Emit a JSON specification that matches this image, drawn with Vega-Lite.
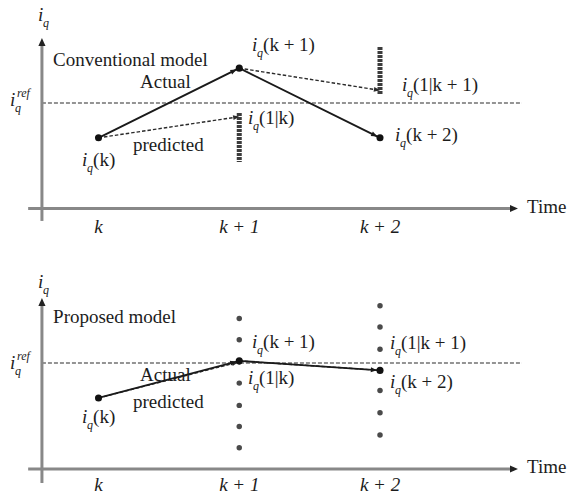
{
  "$schema": "https://vega.github.io/schema/vega-lite/v6.json",
  "padding": 0,
  "spacing": 0,
  "background": "white",
  "config": {
    "view": {"stroke": null},
    "text": {"font": "Liberation Serif", "fontSize": 19, "color": "#1c1c1c", "align": "left", "baseline": "middle"}
  },
  "datasets": {
    "top_actual": [{"x": 0, "y": 0.67}, {"x": 1, "y": 1.33}, {"x": 2, "y": 0.67}],
    "top_pred": [
      {"x": 0, "y": 0.67, "x2": 1, "y2": 0.87},
      {"x": 1, "y": 1.33, "x2": 2, "y2": 1.12}
    ],
    "top_bars": [
      {"x": 1, "y": 0.905, "y2": 0.441},
      {"x": 2, "y": 1.531, "y2": 1.076}
    ],
    "top_iq": [
      {"x": -0.43, "y": 1.834, "body": ""},
      {"x": -0.629, "y": 1.028, "body": ""},
      {"x": -0.117, "y": 0.46, "body": "(k)"},
      {"x": 1.091, "y": 1.55, "body": "(k + 1)"},
      {"x": 1.062, "y": 0.857, "body": "(1|k)"},
      {"x": 2.156, "y": 1.171, "body": "(1|k + 1)"},
      {"x": 2.107, "y": 0.697, "body": "(k + 2)"}
    ],
    "top_text": [
      {"x": -0.323, "y": 1.408, "text": "Conventional model"},
      {"x": 0.295, "y": 1.199, "text": "Actual"},
      {"x": 0.245, "y": 0.602, "text": "predicted"},
      {"x": 3.045, "y": 0.014, "text": "Time"}
    ],
    "top_ticks": [
      {"x": 0, "y": -0.175, "text": "k"},
      {"x": 1, "y": -0.175, "text": "k + 1"},
      {"x": 2, "y": -0.175, "text": "k + 2"}
    ],
    "bot_actual": [{"x": 0, "y": 0.67}, {"x": 1, "y": 1.02}, {"x": 2, "y": 0.93}],
    "bot_pred": [
      {"x": 0, "y": 0.67, "x2": 1, "y2": 1.01},
      {"x": 1, "y": 1.02, "x2": 2, "y2": 0.93}
    ],
    "bot_dots": [
      {"x": 1, "y": 1.42}, {"x": 1, "y": 1.22}, {"x": 1, "y": 1.01}, {"x": 1, "y": 0.81},
      {"x": 1, "y": 0.6}, {"x": 1, "y": 0.4}, {"x": 1, "y": 0.2},
      {"x": 2, "y": 1.54}, {"x": 2, "y": 1.34}, {"x": 2, "y": 1.13}, {"x": 2, "y": 0.93},
      {"x": 2, "y": 0.74}, {"x": 2, "y": 0.53}, {"x": 2, "y": 0.32}
    ],
    "bot_iq": [
      {"x": -0.43, "y": 1.764, "body": ""},
      {"x": -0.629, "y": 1.0, "body": ""},
      {"x": -0.117, "y": 0.491, "body": "(k)"},
      {"x": 1.091, "y": 1.198, "body": "(k + 1)"},
      {"x": 1.062, "y": 0.858, "body": "(1|k)"},
      {"x": 2.071, "y": 1.189, "body": "(1|k + 1)"},
      {"x": 2.071, "y": 0.821, "body": "(k + 2)"}
    ],
    "bot_text": [
      {"x": -0.323, "y": 1.434, "text": "Proposed model"},
      {"x": 0.295, "y": 0.887, "text": "Actual"},
      {"x": 0.245, "y": 0.632, "text": "predicted"},
      {"x": 3.045, "y": 0.019, "text": "Time"}
    ],
    "bot_ticks": [
      {"x": 0, "y": -0.151, "text": "k"},
      {"x": 1, "y": -0.151, "text": "k + 1"},
      {"x": 2, "y": -0.151, "text": "k + 2"}
    ]
  },
  "vconcat": [
    {
      "width": 570,
      "height": 247,
      "encoding": {
        "x": {"field": "x", "type": "quantitative", "scale": {"domain": [-0.7, 3.35], "nice": false, "zero": false}, "axis": null},
        "y": {"field": "y", "type": "quantitative", "scale": {"domain": [-0.365, 1.976], "nice": false, "zero": false}, "axis": null}
      },
      "layer": [
        {
          "data": {"values": [{"x": -0.402, "x2": 3.009, "y": 1}]},
          "mark": {"type": "rule", "color": "#2a2a2a", "strokeWidth": 1.1, "strokeDash": [4, 2]},
          "encoding": {"x2": {"field": "x2"}}
        },
        {
          "data": {"values": [{"x": -0.402, "y": -0.118, "y2": 1.57}]},
          "mark": {"type": "rule", "color": "#888", "strokeWidth": 3},
          "encoding": {"y2": {"field": "y2"}}
        },
        {
          "data": {"values": [{"x": -0.5, "x2": 2.95, "y": 0}]},
          "mark": {"type": "rule", "color": "#888", "strokeWidth": 3},
          "encoding": {"x2": {"field": "x2"}}
        },
        {
          "data": {"values": [{"x": -0.402, "y": 1.616}]},
          "mark": {"type": "point", "shape": "M0,0L-1,-0.45L-1,0.45Z", "filled": true, "color": "#222", "opacity": 1, "size": 250, "angle": -90}
        },
        {
          "data": {"values": [{"x": 2.98, "y": 0}]},
          "mark": {"type": "point", "shape": "M0,0L-1,-0.45L-1,0.45Z", "filled": true, "color": "#222", "opacity": 1, "size": 250, "angle": 0}
        },
        {
          "data": {"name": "top_pred"},
          "mark": {"type": "rule", "color": "#2a2a2a", "strokeWidth": 1.4, "strokeDash": [3.5, 2]},
          "encoding": {"x2": {"field": "x2"}, "y2": {"field": "y2"}}
        },
        {
          "data": {"name": "top_actual"},
          "mark": {"type": "line", "color": "#1a1a1a", "strokeWidth": 1.9}
        },
        {
          "data": {"name": "top_bars"},
          "mark": {"type": "rule", "color": "#3c3c3c", "strokeWidth": 5, "strokeDash": [3, 1]},
          "encoding": {"y2": {"field": "y2"}}
        },
        {
          "data": {"values": [{"x": 1, "y": 0.87}]},
          "mark": {"type": "point", "shape": "M0,0L-1,-0.4L-1,0.4Z", "filled": true, "color": "#2a2a2a", "opacity": 1, "size": 150, "angle": -8.5}
        },
        {
          "data": {"values": [{"x": 2, "y": 1.12}]},
          "mark": {"type": "point", "shape": "M0,0L-1,-0.4L-1,0.4Z", "filled": true, "color": "#2a2a2a", "opacity": 1, "size": 150, "angle": 8.9}
        },
        {
          "data": {"values": [{"x": 1, "y": 1.33}]},
          "mark": {"type": "point", "shape": "M-0.5,0L-1.5,-0.4L-1.5,0.4Z", "filled": true, "color": "#1a1a1a", "opacity": 1, "size": 150, "angle": -26.4}
        },
        {
          "data": {"values": [{"x": 2, "y": 0.67}]},
          "mark": {"type": "point", "shape": "M-0.5,0L-1.5,-0.4L-1.5,0.4Z", "filled": true, "color": "#1a1a1a", "opacity": 1, "size": 150, "angle": 26.4}
        },
        {
          "data": {"name": "top_actual"},
          "mark": {"type": "point", "shape": "circle", "filled": true, "color": "#111", "opacity": 1, "size": 50}
        },
        {
          "data": {"name": "top_iq"},
          "mark": {"type": "text", "text": "i", "fontStyle": "italic"}
        },
        {
          "data": {"name": "top_iq"},
          "mark": {"type": "text", "text": "q", "fontStyle": "italic", "fontSize": 12, "dx": 5, "dy": 8}
        },
        {
          "data": {"name": "top_iq"},
          "mark": {"type": "text", "dx": 11},
          "encoding": {"text": {"field": "body"}}
        },
        {
          "data": {"values": [{"x": -0.629, "y": 1.028}]},
          "mark": {"type": "text", "text": "ref", "fontStyle": "italic", "fontSize": 12, "dx": 7, "dy": -7}
        },
        {
          "data": {"name": "top_text"},
          "mark": {"type": "text"},
          "encoding": {"text": {"field": "text"}}
        },
        {
          "data": {"name": "top_ticks"},
          "mark": {"type": "text", "align": "center", "fontStyle": "italic"},
          "encoding": {"text": {"field": "text"}}
        }
      ]
    },
    {
      "width": 570,
      "height": 247,
      "encoding": {
        "x": {"field": "x", "type": "quantitative", "scale": {"domain": [-0.7, 3.35], "nice": false, "zero": false}, "axis": null},
        "y": {"field": "y", "type": "quantitative", "scale": {"domain": [-0.236, 2.094], "nice": false, "zero": false}, "axis": null}
      },
      "layer": [
        {
          "data": {"values": [{"x": -0.402, "x2": 3.009, "y": 1}]},
          "mark": {"type": "rule", "color": "#2a2a2a", "strokeWidth": 1.1, "strokeDash": [4, 2]},
          "encoding": {"x2": {"field": "x2"}}
        },
        {
          "data": {"values": [{"x": -0.402, "y": -0.132, "y2": 1.57}]},
          "mark": {"type": "rule", "color": "#888", "strokeWidth": 3},
          "encoding": {"y2": {"field": "y2"}}
        },
        {
          "data": {"values": [{"x": -0.5, "x2": 2.95, "y": 0}]},
          "mark": {"type": "rule", "color": "#888", "strokeWidth": 3},
          "encoding": {"x2": {"field": "x2"}}
        },
        {
          "data": {"values": [{"x": -0.402, "y": 1.613}]},
          "mark": {"type": "point", "shape": "M0,0L-1,-0.45L-1,0.45Z", "filled": true, "color": "#222", "opacity": 1, "size": 250, "angle": -90}
        },
        {
          "data": {"values": [{"x": 2.98, "y": 0}]},
          "mark": {"type": "point", "shape": "M0,0L-1,-0.45L-1,0.45Z", "filled": true, "color": "#222", "opacity": 1, "size": 250, "angle": 0}
        },
        {
          "data": {"name": "bot_dots"},
          "mark": {"type": "point", "shape": "circle", "filled": true, "color": "#4a4a4a", "opacity": 1, "size": 30}
        },
        {
          "data": {"name": "bot_pred"},
          "mark": {"type": "rule", "color": "#333", "strokeWidth": 1.4, "strokeDash": [3.5, 2]},
          "encoding": {"x2": {"field": "x2"}, "y2": {"field": "y2"}}
        },
        {
          "data": {"name": "bot_actual"},
          "mark": {"type": "line", "color": "#1a1a1a", "strokeWidth": 1.9}
        },
        {
          "data": {"values": [{"x": 1, "y": 1.01}]},
          "mark": {"type": "point", "shape": "M-0.2,0L-1.2,-0.4L-1.2,0.4Z", "filled": true, "color": "#2a2a2a", "opacity": 1, "size": 150, "angle": -14}
        },
        {
          "data": {"values": [{"x": 1, "y": 1.02}]},
          "mark": {"type": "point", "shape": "M-0.5,0L-1.5,-0.4L-1.5,0.4Z", "filled": true, "color": "#1a1a1a", "opacity": 1, "size": 150, "angle": -14.7}
        },
        {
          "data": {"values": [{"x": 2, "y": 0.93}]},
          "mark": {"type": "point", "shape": "M-0.5,0L-1.5,-0.4L-1.5,0.4Z", "filled": true, "color": "#1a1a1a", "opacity": 1, "size": 150, "angle": 3.7}
        },
        {
          "data": {"name": "bot_actual"},
          "mark": {"type": "point", "shape": "circle", "filled": true, "color": "#111", "opacity": 1, "size": 50}
        },
        {
          "data": {"name": "bot_iq"},
          "mark": {"type": "text", "text": "i", "fontStyle": "italic"}
        },
        {
          "data": {"name": "bot_iq"},
          "mark": {"type": "text", "text": "q", "fontStyle": "italic", "fontSize": 12, "dx": 5, "dy": 8}
        },
        {
          "data": {"name": "bot_iq"},
          "mark": {"type": "text", "dx": 11},
          "encoding": {"text": {"field": "body"}}
        },
        {
          "data": {"values": [{"x": -0.629, "y": 1.0}]},
          "mark": {"type": "text", "text": "ref", "fontStyle": "italic", "fontSize": 12, "dx": 7, "dy": -7}
        },
        {
          "data": {"name": "bot_text"},
          "mark": {"type": "text"},
          "encoding": {"text": {"field": "text"}}
        },
        {
          "data": {"name": "bot_ticks"},
          "mark": {"type": "text", "align": "center", "fontStyle": "italic"},
          "encoding": {"text": {"field": "text"}}
        }
      ]
    }
  ]
}
